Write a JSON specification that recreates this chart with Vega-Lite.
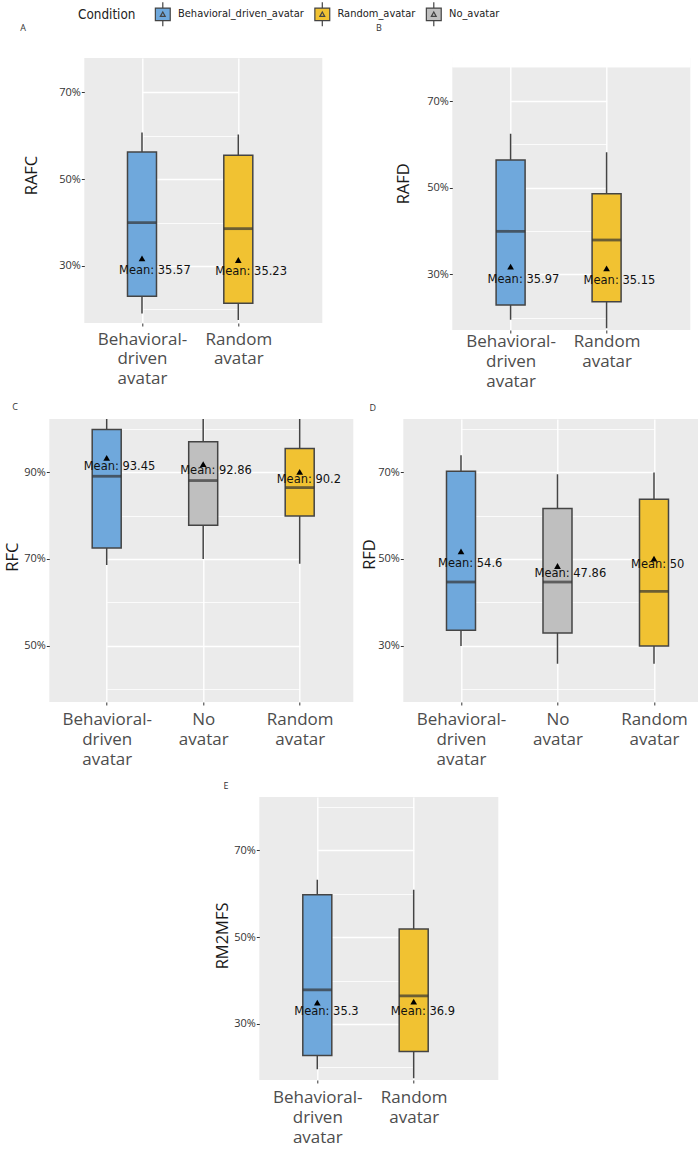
{
  "$schema": "https://vega.github.io/schema/vega-lite/v6.json",
  "background": "white",
  "padding": {"left": 4.3, "top": 1, "right": 0, "bottom": 0},
  "autosize": {"type": "pad"},
  "config": {
    "view": {"stroke": null},
    "font": "Open Sans",
    "axis": {"domain": false, "labelFont": "Open Sans", "titleFont": "Open Sans"}
  },
  "datasets": {
    "box": [
      {"panel": "A", "cond": "Behavioral_driven_avatar", "lo": 19.03, "q1": 23.02, "med": 39.98, "q3": 56.25, "hi": 60.77, "mean": 31.77, "lab_y": 28.93, "lab": "Mean: 35.57"},
      {"panel": "A", "cond": "Random_avatar", "lo": 17.57, "q1": 21.4, "med": 38.6, "q3": 55.48, "hi": 60.31, "mean": 31.38, "lab_y": 28.54, "lab": "Mean: 35.23"},
      {"panel": "B", "cond": "Behavioral_driven_avatar", "lo": 19.5, "q1": 22.92, "med": 39.92, "q3": 56.38, "hi": 62.46, "mean": 31.77, "lab_y": 28.69, "lab": "Mean: 35.97"},
      {"panel": "B", "cond": "Random_avatar", "lo": 17.54, "q1": 23.69, "med": 37.92, "q3": 48.62, "hi": 58.15, "mean": 31.38, "lab_y": 28.54, "lab": "Mean: 35.15"},
      {"panel": "C", "cond": "Behavioral_driven_avatar", "lo": 68.62, "q1": 72.53, "med": 89.03, "q3": 99.78, "hi": 103, "mean": 93.25, "lab_y": 91.18, "lab": "Mean: 93.45"},
      {"panel": "C", "cond": "No_avatar", "lo": 70.0, "q1": 77.75, "med": 88.04, "q3": 96.94, "hi": 103, "mean": 91.8, "lab_y": 90.26, "lab": "Mean: 92.86"},
      {"panel": "C", "cond": "Random_avatar", "lo": 68.93, "q1": 79.9, "med": 86.42, "q3": 95.4, "hi": 103, "mean": 90.03, "lab_y": 88.11, "lab": "Mean: 90.2"},
      {"panel": "D", "cond": "Behavioral_driven_avatar", "lo": 29.97, "q1": 33.58, "med": 44.7, "q3": 70.18, "hi": 73.87, "mean": 51.77, "lab_y": 48.93, "lab": "Mean: 54.6"},
      {"panel": "D", "cond": "No_avatar", "lo": 25.9, "q1": 32.96, "med": 44.7, "q3": 61.59, "hi": 69.49, "mean": 48.39, "lab_y": 46.62, "lab": "Mean: 47.86"},
      {"panel": "D", "cond": "Random_avatar", "lo": 25.9, "q1": 29.97, "med": 42.56, "q3": 63.74, "hi": 69.88, "mean": 50.08, "lab_y": 48.7, "lab": "Mean: 50"},
      {"panel": "E", "cond": "Behavioral_driven_avatar", "lo": 19.54, "q1": 22.69, "med": 37.85, "q3": 59.77, "hi": 63.23, "mean": 34.92, "lab_y": 32.77, "lab": "Mean: 35.3"},
      {"panel": "E", "cond": "Random_avatar", "lo": 17.46, "q1": 23.62, "med": 36.46, "q3": 51.85, "hi": 60.92, "mean": 35.15, "lab_y": 32.77, "lab": "Mean: 36.9"}
    ]
  },
  "bounds": "full",
  "spacing": 13,
  "vconcat": [
    {
      "bounds": "flush",
      "spacing": 0,
      "hconcat": [
        {"width": 44.7, "height": 1, "mark": {"type": "point", "opacity": 0}, "data": {"values": [{"s": 0}]}},
        {
          "width": 238, "height": 265,
          "view": {"fill": "#ebebeb"},
          "title": {"text": "A", "anchor": "start", "align": "center", "dx": -61.3, "offset": 21, "baseline": "middle", "fontSize": 9, "fontWeight": "normal", "color": "#333", "frame": "group"},
          "data": {"name": "box"},
          "transform": [{"filter": "datum.panel == 'A'"}],
          "encoding": {
            "x": {"field": "cond", "type": "nominal", "scale": {"type": "point", "domain": ["Behavioral_driven_avatar", "Random_avatar"], "range": [57.7, 154], "padding": 0},
              "axis": {"title": null, "grid": true, "gridColor": "white", "gridWidth": 1.4, "tickSize": 3, "tickColor": "#333", "labelAngle": 0, "labelFontSize": 17, "labelColor": "#4d4d4d", "labelLineHeight": 20, "labelPadding": 5,
                "labelExpr": "datum.value == 'Behavioral_driven_avatar' ? ['Behavioral-', 'driven', 'avatar'] : datum.value == 'Random_avatar' ? ['Random', 'avatar'] : ['No', 'avatar']"}}
          },
          "layer": [
            {"mark": {"type": "rule", "stroke": "#444", "strokeWidth": 1.5, "clip": true},
             "encoding": {"y": {"field": "lo", "type": "quantitative", "scale": {"domain": [16.87, 77.9], "nice": false, "zero": false},
               "axis": {"title": "RAFC", "titleFontSize": 16.5, "titleFontWeight": "normal", "titleColor": "#1a1a1a", "titleX": -52.3, "titleY": 117, "titleBaseline": "middle",
                 "values": [20, 30, 40, 50, 60, 70], "labelExpr": "datum.value % 20 == 10 ? datum.value + '%' : ''", "labelFontSize": 11, "labelColor": "#333", "labelPadding": 1,
                 "tickSize": 3, "tickColor": "#333", "tickOpacity": {"condition": {"test": "datum.value % 20 == 10", "value": 1}, "value": 0},
                 "grid": true, "gridColor": "white", "gridWidth": {"condition": {"test": "datum.value % 20 == 10", "value": 1.4}, "value": 0.8}}},
               "y2": {"field": "hi"}}},
            {"mark": {"type": "bar", "size": 29, "stroke": "#444", "strokeWidth": 1.5},
             "encoding": {"y": {"field": "q1", "type": "quantitative"}, "y2": {"field": "q3"},
               "color": {"field": "cond", "type": "nominal", "scale": {"domain": ["Behavioral_driven_avatar", "Random_avatar", "No_avatar"], "range": ["#6fa8dc", "#f1c232", "#bfbfbf"]},
                 "legend": {"title": "Condition", "orient": "none", "legendX": 38.7, "legendY": -57, "direction": "horizontal", "titleOrient": "left",
                   "titleFont": "DejaVu Sans Condensed, DejaVu Sans, sans-serif", "titleFontSize": 13.4, "titleFontWeight": "normal", "titleColor": "#222", "titleBaseline": "middle", "titleAnchor": "middle", "titlePadding": 13.8,
                   "labelFont": "DejaVu Sans Condensed, DejaVu Sans, sans-serif", "labelFontSize": 11, "labelColor": "#222", "labelOffset": 2.2, "columnPadding": 4.5, "padding": 0,
                   "symbolType": "M-0.62,-0.52H0.62V0.52H-0.62Z M0,-1V-0.52 M0,0.52V1 M-0.2,0.17L0,-0.2L0.2,0.17Z", "symbolSize": 576, "symbolStrokeColor": "#444", "symbolStrokeWidth": 1.2, "symbolOpacity": 1}}}},
            {"mark": {"type": "tick", "color": "#333", "thickness": 2.8, "size": 29}, "encoding": {"y": {"field": "med", "type": "quantitative"}}},
            {"mark": {"type": "point", "shape": "triangle-up", "filled": true, "color": "black", "size": 45, "opacity": 1}, "encoding": {"y": {"field": "mean", "type": "quantitative"}}},
            {"mark": {"type": "text", "align": "left", "dx": -23, "baseline": "middle", "font": "DejaVu Sans", "fontSize": 11.5, "color": "#111"}, "encoding": {"y": {"field": "lab_y", "type": "quantitative"}, "text": {"field": "lab"}}}
          ]
        },
        {"width": 129.7, "height": 1, "mark": {"type": "point", "opacity": 0}, "data": {"values": [{"s": 0}]}},
        {
          "width": 238, "height": 272,
          "view": {"fill": "#ebebeb"},
          "title": {"text": "B", "anchor": "start", "align": "center", "dx": -73.4, "offset": 20.7, "baseline": "middle", "fontSize": 9, "fontWeight": "normal", "color": "#333", "frame": "group"},
          "data": {"name": "box"},
          "transform": [{"filter": "datum.panel == 'B'"}],
          "encoding": {
            "x": {"field": "cond", "type": "nominal", "scale": {"type": "point", "domain": ["Behavioral_driven_avatar", "Random_avatar"], "range": [58.3, 154.3], "padding": 0},
              "axis": {"title": null, "grid": true, "gridColor": "white", "gridWidth": 1.4, "tickSize": 3, "tickColor": "#333", "labelAngle": 0, "labelFontSize": 17, "labelColor": "#4d4d4d", "labelLineHeight": 20, "labelPadding": 0.5,
                "labelExpr": "datum.value == 'Behavioral_driven_avatar' ? ['Behavioral-', 'driven', 'avatar'] : datum.value == 'Random_avatar' ? ['Random', 'avatar'] : ['No', 'avatar']"}}
          },
          "layer": [
            {"mark": {"type": "rect", "fill": "white"},
             "encoding": {"x": {"value": 0}, "x2": {"value": "width"},
               "y": {"datum": 77.77, "type": "quantitative", "scale": {"domain": [17.15, 79.93], "nice": false, "zero": false},
                 "axis": {"title": "RAFD", "titleFontSize": 16.5, "titleFontWeight": "normal", "titleColor": "#1a1a1a", "titleX": -48.4, "titleY": 125.3, "titleBaseline": "middle",
                   "values": [20, 30, 40, 50, 60, 70], "labelExpr": "datum.value % 20 == 10 ? datum.value + '%' : ''", "labelFontSize": 11, "labelColor": "#333", "labelPadding": 1,
                   "tickSize": 3, "tickColor": "#333", "tickOpacity": {"condition": {"test": "datum.value % 20 == 10", "value": 1}, "value": 0},
                   "grid": true, "gridColor": "white", "gridWidth": {"condition": {"test": "datum.value % 20 == 10", "value": 1.4}, "value": 0.8}}},
               "y2": {"datum": 79.93}}},
            {"mark": {"type": "rule", "stroke": "#444", "strokeWidth": 1.5, "clip": true},
             "encoding": {"y": {"field": "lo", "type": "quantitative"}, "y2": {"field": "hi"}}},
            {"mark": {"type": "bar", "size": 29, "stroke": "#444", "strokeWidth": 1.5},
             "encoding": {"y": {"field": "q1", "type": "quantitative"}, "y2": {"field": "q3"},
               "color": {"field": "cond", "type": "nominal", "scale": {"domain": ["Behavioral_driven_avatar", "Random_avatar", "No_avatar"], "range": ["#6fa8dc", "#f1c232", "#bfbfbf"]}}}},
            {"mark": {"type": "tick", "color": "#333", "thickness": 2.8, "size": 29}, "encoding": {"y": {"field": "med", "type": "quantitative"}}},
            {"mark": {"type": "point", "shape": "triangle-up", "filled": true, "color": "black", "size": 45, "opacity": 1}, "encoding": {"y": {"field": "mean", "type": "quantitative"}}},
            {"mark": {"type": "text", "align": "left", "dx": -23, "baseline": "middle", "font": "DejaVu Sans", "fontSize": 11.5, "color": "#111"}, "encoding": {"y": {"field": "lab_y", "type": "quantitative"}, "text": {"field": "lab"}}}
          ]
        }
      ]
    },
    {
      "bounds": "flush",
      "spacing": 0,
      "hconcat": [
        {"width": 10, "height": 1, "mark": {"type": "point", "opacity": 0}, "data": {"values": [{"s": 0}]}},
        {
          "width": 304, "height": 283,
          "view": {"fill": "#ebebeb"},
          "title": {"text": "C", "anchor": "start", "align": "center", "dx": -34.3, "offset": 3, "baseline": "middle", "fontSize": 9, "fontWeight": "normal", "color": "#333", "frame": "group"},
          "data": {"name": "box"},
          "transform": [{"filter": "datum.panel == 'C'"}],
          "encoding": {
            "x": {"field": "cond", "type": "nominal", "scale": {"type": "point", "domain": ["Behavioral_driven_avatar", "No_avatar", "Random_avatar"], "range": [57.4, 250.4], "padding": 0},
              "axis": {"title": null, "grid": true, "gridColor": "white", "gridWidth": 1.4, "tickSize": 3, "tickColor": "#333", "labelAngle": 0, "labelFontSize": 17, "labelColor": "#4d4d4d", "labelLineHeight": 20, "labelPadding": 7,
                "labelExpr": "datum.value == 'Behavioral_driven_avatar' ? ['Behavioral-', 'driven', 'avatar'] : datum.value == 'Random_avatar' ? ['Random', 'avatar'] : ['No', 'avatar']"}}
          },
          "layer": [
            {"mark": {"type": "rule", "stroke": "#444", "strokeWidth": 1.5, "clip": true},
             "encoding": {"y": {"field": "lo", "type": "quantitative", "scale": {"domain": [37.1, 102.2], "nice": false, "zero": false},
               "axis": {"title": "RFC", "titleFontSize": 16.5, "titleFontWeight": "normal", "titleColor": "#1a1a1a", "titleX": -36.8, "titleY": 137.7, "titleBaseline": "middle",
                 "values": [40, 50, 60, 70, 80, 90, 100], "labelExpr": "datum.value % 20 == 10 ? datum.value + '%' : ''", "labelFontSize": 11, "labelColor": "#333", "labelPadding": 1,
                 "tickSize": 3, "tickColor": "#333", "tickOpacity": {"condition": {"test": "datum.value % 20 == 10", "value": 1}, "value": 0},
                 "grid": true, "gridColor": "white", "gridWidth": {"condition": {"test": "datum.value % 20 == 10", "value": 1.4}, "value": 0.8}}},
               "y2": {"field": "hi"}}},
            {"mark": {"type": "bar", "size": 29, "stroke": "#444", "strokeWidth": 1.5},
             "encoding": {"y": {"field": "q1", "type": "quantitative"}, "y2": {"field": "q3"},
               "color": {"field": "cond", "type": "nominal", "scale": {"domain": ["Behavioral_driven_avatar", "Random_avatar", "No_avatar"], "range": ["#6fa8dc", "#f1c232", "#bfbfbf"]}}}},
            {"mark": {"type": "tick", "color": "#333", "thickness": 2.8, "size": 29}, "encoding": {"y": {"field": "med", "type": "quantitative"}}},
            {"mark": {"type": "point", "shape": "triangle-up", "filled": true, "color": "black", "size": 45, "opacity": 1}, "encoding": {"y": {"field": "mean", "type": "quantitative"}}},
            {"mark": {"type": "text", "align": "left", "dx": -23, "baseline": "middle", "font": "DejaVu Sans", "fontSize": 11.5, "color": "#111"}, "encoding": {"y": {"field": "lab_y", "type": "quantitative"}, "text": {"field": "lab"}}}
          ]
        },
        {"width": 50, "height": 1, "mark": {"type": "point", "opacity": 0}, "data": {"values": [{"s": 0}]}},
        {
          "width": 295, "height": 283,
          "view": {"fill": "#ebebeb"},
          "title": {"text": "D", "anchor": "start", "align": "center", "dx": -30.6, "offset": 2.3, "baseline": "middle", "fontSize": 9, "fontWeight": "normal", "color": "#333", "frame": "group"},
          "data": {"name": "box"},
          "transform": [{"filter": "datum.panel == 'D'"}],
          "encoding": {
            "x": {"field": "cond", "type": "nominal", "scale": {"type": "point", "domain": ["Behavioral_driven_avatar", "No_avatar", "Random_avatar"], "range": [57.7, 250.7], "padding": 0},
              "axis": {"title": null, "grid": true, "gridColor": "white", "gridWidth": 1.4, "tickSize": 3, "tickColor": "#333", "labelAngle": 0, "labelFontSize": 17, "labelColor": "#4d4d4d", "labelLineHeight": 20, "labelPadding": 7,
                "labelExpr": "datum.value == 'Behavioral_driven_avatar' ? ['Behavioral-', 'driven', 'avatar'] : datum.value == 'Random_avatar' ? ['Random', 'avatar'] : ['No', 'avatar']"}}
          },
          "layer": [
            {"mark": {"type": "rule", "stroke": "#444", "strokeWidth": 1.5, "clip": true},
             "encoding": {"y": {"field": "lo", "type": "quantitative", "scale": {"domain": [17.1, 82.2], "nice": false, "zero": false},
               "axis": {"title": "RFD", "titleFontSize": 16.5, "titleFontWeight": "normal", "titleColor": "#1a1a1a", "titleX": -34.1, "titleY": 135, "titleBaseline": "middle",
                 "values": [20, 30, 40, 50, 60, 70, 80], "labelExpr": "datum.value % 20 == 10 ? datum.value + '%' : ''", "labelFontSize": 11, "labelColor": "#333", "labelPadding": 1,
                 "tickSize": 3, "tickColor": "#333", "tickOpacity": {"condition": {"test": "datum.value % 20 == 10", "value": 1}, "value": 0},
                 "grid": true, "gridColor": "white", "gridWidth": {"condition": {"test": "datum.value % 20 == 10", "value": 1.4}, "value": 0.8}}},
               "y2": {"field": "hi"}}},
            {"mark": {"type": "bar", "size": 29, "stroke": "#444", "strokeWidth": 1.5},
             "encoding": {"y": {"field": "q1", "type": "quantitative"}, "y2": {"field": "q3"},
               "color": {"field": "cond", "type": "nominal", "scale": {"domain": ["Behavioral_driven_avatar", "Random_avatar", "No_avatar"], "range": ["#6fa8dc", "#f1c232", "#bfbfbf"]}}}},
            {"mark": {"type": "tick", "color": "#333", "thickness": 2.8, "size": 29}, "encoding": {"y": {"field": "med", "type": "quantitative"}}},
            {"mark": {"type": "point", "shape": "triangle-up", "filled": true, "color": "black", "size": 45, "opacity": 1}, "encoding": {"y": {"field": "mean", "type": "quantitative"}}},
            {"mark": {"type": "text", "align": "left", "dx": -23, "baseline": "middle", "font": "DejaVu Sans", "fontSize": 11.5, "color": "#111"}, "encoding": {"y": {"field": "lab_y", "type": "quantitative"}, "text": {"field": "lab"}}}
          ]
        }
      ]
    },
    {
      "bounds": "flush",
      "spacing": 0,
      "hconcat": [
        {"width": 220, "height": 1, "mark": {"type": "point", "opacity": 0}, "data": {"values": [{"s": 0}]}},
        {
          "width": 239, "height": 283,
          "view": {"fill": "#ebebeb"},
          "title": {"text": "E", "anchor": "start", "align": "center", "dx": -33.3, "offset": 2.3, "baseline": "middle", "fontSize": 9, "fontWeight": "normal", "color": "#333", "frame": "group"},
          "data": {"name": "box"},
          "transform": [{"filter": "datum.panel == 'E'"}],
          "encoding": {
            "x": {"field": "cond", "type": "nominal", "scale": {"type": "point", "domain": ["Behavioral_driven_avatar", "Random_avatar"], "range": [58, 154.4], "padding": 0},
              "axis": {"title": null, "grid": true, "gridColor": "white", "gridWidth": 1.4, "tickSize": 3, "tickColor": "#333", "labelAngle": 0, "labelFontSize": 17, "labelColor": "#4d4d4d", "labelLineHeight": 20, "labelPadding": 7,
                "labelExpr": "datum.value == 'Behavioral_driven_avatar' ? ['Behavioral-', 'driven', 'avatar'] : datum.value == 'Random_avatar' ? ['Random', 'avatar'] : ['No', 'avatar']"}}
          },
          "layer": [
            {"mark": {"type": "rule", "stroke": "#444", "strokeWidth": 1.5, "clip": true},
             "encoding": {"y": {"field": "lo", "type": "quantitative", "scale": {"domain": [17.07, 82.3], "nice": false, "zero": false},
               "axis": {"title": "RM2MFS", "titleFontSize": 16.5, "titleFontWeight": "normal", "titleColor": "#1a1a1a", "titleX": -36.8, "titleY": 138.4, "titleBaseline": "middle",
                 "values": [20, 30, 40, 50, 60, 70, 80], "labelExpr": "datum.value % 20 == 10 ? datum.value + '%' : ''", "labelFontSize": 11, "labelColor": "#333", "labelPadding": 1,
                 "tickSize": 3, "tickColor": "#333", "tickOpacity": {"condition": {"test": "datum.value % 20 == 10", "value": 1}, "value": 0},
                 "grid": true, "gridColor": "white", "gridWidth": {"condition": {"test": "datum.value % 20 == 10", "value": 1.4}, "value": 0.8}}},
               "y2": {"field": "hi"}}},
            {"mark": {"type": "bar", "size": 29, "stroke": "#444", "strokeWidth": 1.5},
             "encoding": {"y": {"field": "q1", "type": "quantitative"}, "y2": {"field": "q3"},
               "color": {"field": "cond", "type": "nominal", "scale": {"domain": ["Behavioral_driven_avatar", "Random_avatar", "No_avatar"], "range": ["#6fa8dc", "#f1c232", "#bfbfbf"]}}}},
            {"mark": {"type": "tick", "color": "#333", "thickness": 2.8, "size": 29}, "encoding": {"y": {"field": "med", "type": "quantitative"}}},
            {"mark": {"type": "point", "shape": "triangle-up", "filled": true, "color": "black", "size": 45, "opacity": 1}, "encoding": {"y": {"field": "mean", "type": "quantitative"}}},
            {"mark": {"type": "text", "align": "left", "dx": -23, "baseline": "middle", "font": "DejaVu Sans", "fontSize": 11.5, "color": "#111"}, "encoding": {"y": {"field": "lab_y", "type": "quantitative"}, "text": {"field": "lab"}}}
          ]
        }
      ]
    }
  ]
}
